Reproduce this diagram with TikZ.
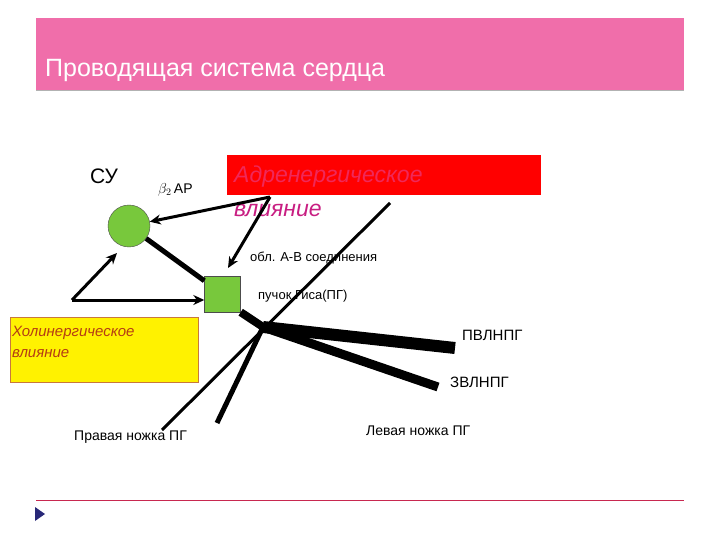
\documentclass[tikz,border=0pt]{standalone}
\usepackage{fontspec}
\usetikzlibrary{arrows.meta}
\setmainfont{Liberation Sans}
\begin{document}
\begin{tikzpicture}[x=1pt,y=-1pt,
  lbl/.style={inner sep=0pt,anchor=west,font=\fontsize{13}{15}\selectfont},
  arr/.style={line width=3pt,-{Stealth[length=11pt,width=10pt]}}]
\useasboundingbox (0,0) rectangle (720,540);
\fill[white] (0,0) rectangle (720,540);
\fill[fill={rgb,255:red,240;green,110;blue,170}] (36,18) rectangle (684,90);
\draw[gray!60] (36,90) -- (684,90);
\node[inner sep=0pt,anchor=west,text=white,font=\fontsize{25}{30}\selectfont] (title) at (45,70) {Проводящая система сердца};
\draw[color={rgb,255:red,200;green,40;blue,80}] (36,500) -- (684,500);
\fill[color={rgb,255:red,40;green,40;blue,120}] (35,507) -- (45,514) -- (35,521) -- cycle;
% red box
\node[draw=none,fill=red,minimum width=314pt,minimum height=40pt,inner sep=0pt] (adr) at (384,175) {};
\node[inner sep=0pt,anchor=west,text={rgb,255:red,240;green,40;blue,90},font=\itshape\fontsize{23}{26}\selectfont] (adrt) at (234,177) {Адренергическое};
\node[inner sep=0pt,anchor=west,text={rgb,255:red,200;green,30;blue,130},font=\itshape\fontsize{23}{26}\selectfont] (adrt2) at (234,210) {влияние};
% yellow box
\node[draw={rgb,255:red,200;green,120;blue,60},fill=yellow,minimum width=188pt,minimum height=65pt,inner sep=0pt] (hol) at (104,350) {};
\node[inner sep=0pt,anchor=west,text={rgb,255:red,180;green,60;blue,20},font=\itshape\fontsize{15}{17}\selectfont] at (12,333) {Холинергическое};
\node[inner sep=0pt,anchor=west,text={rgb,255:red,180;green,60;blue,20},font=\itshape\fontsize{15}{17}\selectfont] at (12,354) {влияние};
% nodes
\node[circle,draw=black!70,fill={rgb,255:red,120;green,200;blue,60},minimum size=42pt,inner sep=0pt] (su) at (129,226) {};
\node[draw=black!70,fill={rgb,255:red,120;green,200;blue,60},minimum size=36pt,inner sep=0pt] (av) at (222.5,294) {};
\coordinate (src) at (270,197);
\coordinate (hl) at (72,300);
\coordinate (j) at (263,327);
\coordinate (pv) at (455,348);
\coordinate (zv) at (438,387);
\coordinate (pr) at (217,423);
\coordinate (t1) at (390,203);
\coordinate (t2) at (162,430);
% connectors
\draw[arr] (src) -- (su);
\draw[arr] (src) -- (228,268);
\draw[line width=5pt] (su) -- (av);
\draw[arr] (hl) -- (117,253);
\draw[arr] (hl) -- (av.west |- hl);
\draw[line width=3pt] (t1) -- (t2);
\draw[line width=8pt] (av.south east) -- (j);
\draw[line width=12pt] (j) -- (pv);
\draw[line width=9pt] (j) -- (zv);
\draw[line width=5pt] (j) -- (pr);
% labels
\node[lbl,font=\fontsize{21}{24}\selectfont] at (90,176) {СУ};
\node[lbl,font=\fontsize{14}{16}\selectfont] at (158,190) {$\beta_2$\,АР};
\node[lbl] at (250,258) {обл. А-В соединения};
\node[lbl] at (258,296) {пучок Гиса(ПГ)};
\node[lbl,font=\fontsize{15}{17}\selectfont] at (462,335) {ПВЛНПГ};
\node[lbl,font=\fontsize{15}{17}\selectfont] at (450,382) {ЗВЛНПГ};
\node[lbl,font=\fontsize{14}{16}\selectfont] at (74,437) {Правая ножка ПГ};
\node[lbl,font=\fontsize{14}{16}\selectfont] at (366,431) {Левая ножка ПГ};
\end{tikzpicture}
\end{document}
